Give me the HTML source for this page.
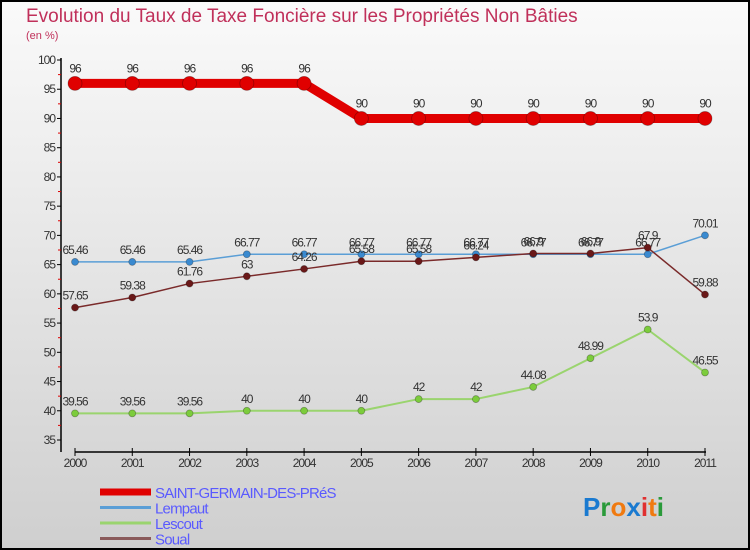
<!DOCTYPE html>
<html><head><meta charset="utf-8"><style>
body{margin:0;}
#c{width:750px;height:550px;position:relative;box-sizing:border-box;border:2px solid #000;background:linear-gradient(#fafafa,#cfcfcf);font-family:"Liberation Sans",sans-serif;overflow:hidden}
svg{position:absolute;left:-2px;top:-2px}
</style></head><body>
<div id="c">
<svg id="s" width="750" height="550">
<text x="26" y="22" font-size="19" fill="#c0305a">Evolution du Taux de Taxe Foncière sur les Propriétés Non Bâties</text>
<text x="26" y="39" font-size="11" fill="#c0305a">(en %)</text>
</svg>
</div>
<script>
const years=[2000,2001,2002,2003,2004,2005,2006,2007,2008,2009,2010,2011];
const stGermain=[96,96,96,96,96,90,90,90,90,90,90,90];
const lempaut=[65.46,65.46,65.46,66.77,66.77,66.77,66.77,66.77,66.77,66.77,66.77,70.01];
const lescout=[39.56,39.56,39.56,40,40,40,42,42,44.08,48.99,53.9,46.55];
const soual=[57.65,59.38,61.76,63,64.26,65.58,65.58,66.24,66.9,66.9,67.9,59.88];
const yTicks=[35,40,45,50,55,60,65,70,75,80,85,90,95,100];
const NS='http://www.w3.org/2000/svg';
const s=document.getElementById('s');
const X=i=>75+i*(630/11);
const Y=v=>60+(100-v)*(380/65);
function el(t,a,txt){const e=document.createElementNS(NS,t);for(const k in a)e.setAttribute(k,a[k]);if(txt!==undefined)e.textContent=txt;s.appendChild(e);return e;}
let e;
e=el('line',{x1:61,y1:58,x2:61,y2:452,stroke:'#000','stroke-width':1.5});


e=el('line',{x1:75,y1:452,x2:706,y2:452,stroke:'#000','stroke-width':1.5});


yTicks.forEach(v=>{
 el('line',{x1:57,y1:Y(v),x2:61,y2:Y(v),stroke:'#000'});
 if(v<100)el('line',{x1:58,y1:Y(v+2.5),x2:61,y2:Y(v+2.5),stroke:'#d00'});
 e=el('text',{x:55,y:Y(v)+4,'font-size':12,'text-anchor':'end',fill:'#333','letter-spacing':'-1'},v);
 
 
});
years.forEach((y,i)=>{
 el('line',{x1:X(i),y1:448,x2:X(i),y2:456,stroke:'#000'});
 e=el('text',{x:X(i),y:467,'font-size':12,'text-anchor':'middle',fill:'#333','letter-spacing':'-1'},y);
 
 
});
function series(d,col,w,r,name,fill){
 e=el('polyline',{points:d.map((v,i)=>X(i)+','+Y(v)).join(' '),fill:'none',stroke:col,'stroke-width':w,'stroke-linejoin':'round'});
 
 
 d.forEach((v,i)=>{
  e=el('circle',{cx:X(i),cy:Y(v),r:r,fill:fill,stroke:'rgba(0,0,0,0.3)','stroke-width':0.8});
  
  
  e=el('text',{x:X(i),y:Y(v)-8-(r>4?3:0),'font-size':12,'text-anchor':'middle',fill:'#333','letter-spacing':'-1'},v);
  
  
 });
}
series(lescout,'#9ad46e',2,3.5,'lescout','#7ccc3c');
series(lempaut,'#5a9ed6',1.5,3.5,'lempaut','#3a8ad0');
series(soual,'#7a2a2a',1.5,3.5,'soual','#6a1818');
series(stGermain,'#e00000',9,7,'saint-germain','#e00000');
const leg=[['SAINT-GERMAIN-DES-PRéS','#e00000',7,'legend-saint-germain'],['Lempaut','#5a9ed6',3,'legend-lempaut'],['Lescout','#9ad46e',3,'legend-lescout'],['Soual','#8a5a5a',3,'legend-soual']];
leg.forEach((l,i)=>{
 const y=492+i*15.5;
 el('line',{x1:100,y1:y,x2:151,y2:y,stroke:l[1],'stroke-width':l[2]});
 e=el('text',{x:155,y:y+6,'font-size':15,fill:'#5a5aff','letter-spacing':'-0.8'},l[0]);
 
 
});
e=el('text',{x:583,y:516,'font-size':26,'font-weight':'bold'});


[['P','#1a7ad0'],['r','#2a9a3a'],['o','#f07a10'],['x','#1a7ad0'],['i','#e03030'],['t','#f07a10'],['i','#2a9a3a']].forEach(c=>{const t=document.createElementNS(NS,'tspan');t.setAttribute('fill',c[1]);t.textContent=c[0];e.appendChild(t);});
</script>
</body></html>
